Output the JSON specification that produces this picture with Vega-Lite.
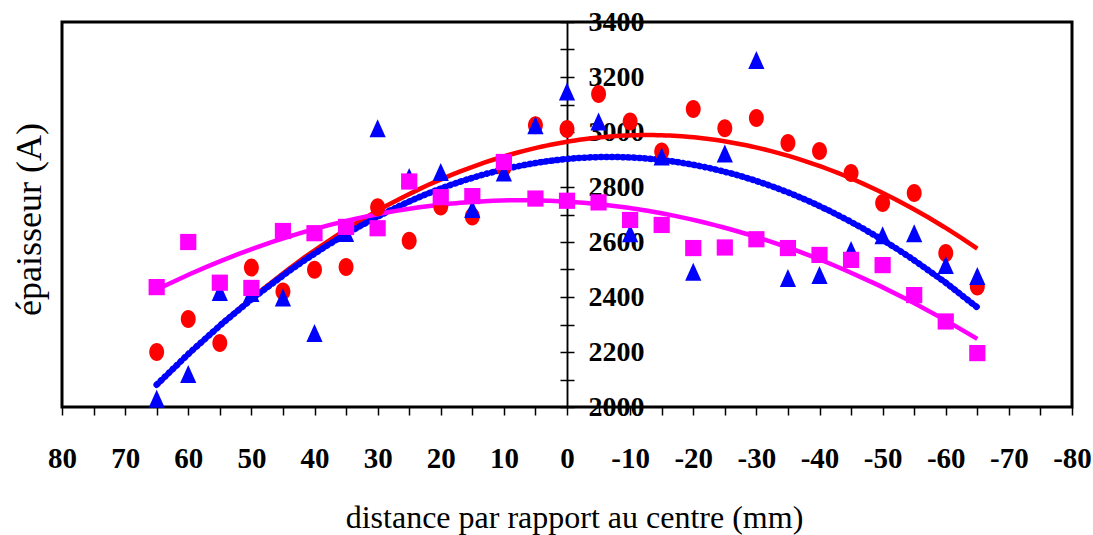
{
  "$schema": "https://vega.github.io/schema/vega-lite/v6.json",
  "width": 1010,
  "height": 385,
  "autosize": "none",
  "padding": {"left": 62, "top": 22, "right": 21, "bottom": 128},
  "background": "white",
  "config": {
    "view": {"stroke": "black", "strokeWidth": 3},
    "font": "Liberation Serif",
    "axis": {"grid": false}
  },
  "data": {
    "values": [
      {"x": 65, "y": 2200, "series": "s1"}, {"x": 60, "y": 2320, "series": "s1"}, {"x": 55, "y": 2233, "series": "s1"},
      {"x": 50, "y": 2507, "series": "s1"}, {"x": 45, "y": 2420, "series": "s1"}, {"x": 40, "y": 2499, "series": "s1"},
      {"x": 35, "y": 2509, "series": "s1"}, {"x": 30, "y": 2726, "series": "s1"}, {"x": 25, "y": 2605, "series": "s1"},
      {"x": 20, "y": 2729, "series": "s1"}, {"x": 15, "y": 2693, "series": "s1"}, {"x": 10, "y": 2870, "series": "s1"},
      {"x": 5, "y": 3025, "series": "s1"}, {"x": 0, "y": 3011, "series": "s1"}, {"x": -5, "y": 3138, "series": "s1"},
      {"x": -10, "y": 3038, "series": "s1"}, {"x": -15, "y": 2929, "series": "s1"}, {"x": -20, "y": 3084, "series": "s1"},
      {"x": -25, "y": 3014, "series": "s1"}, {"x": -30, "y": 3051, "series": "s1"}, {"x": -35, "y": 2960, "series": "s1"},
      {"x": -40, "y": 2931, "series": "s1"}, {"x": -45, "y": 2851, "series": "s1"}, {"x": -50, "y": 2742, "series": "s1"},
      {"x": -55, "y": 2778, "series": "s1"}, {"x": -60, "y": 2560, "series": "s1"}, {"x": -65, "y": 2438, "series": "s1"},
      {"x": 65, "y": 2030, "series": "s2"}, {"x": 60, "y": 2120, "series": "s2"}, {"x": 55, "y": 2418, "series": "s2"},
      {"x": 50, "y": 2415, "series": "s2"}, {"x": 45, "y": 2398, "series": "s2"}, {"x": 40, "y": 2269, "series": "s2"},
      {"x": 35, "y": 2633, "series": "s2"}, {"x": 30, "y": 3014, "series": "s2"}, {"x": 25, "y": 2836, "series": "s2"},
      {"x": 20, "y": 2855, "series": "s2"}, {"x": 15, "y": 2720, "series": "s2"}, {"x": 10, "y": 2853, "series": "s2"},
      {"x": 5, "y": 3025, "series": "s2"}, {"x": 0, "y": 3147, "series": "s2"}, {"x": -5, "y": 3038, "series": "s2"},
      {"x": -10, "y": 2632, "series": "s2"}, {"x": -15, "y": 2911, "series": "s2"}, {"x": -20, "y": 2492, "series": "s2"},
      {"x": -25, "y": 2922, "series": "s2"}, {"x": -30, "y": 3262, "series": "s2"}, {"x": -35, "y": 2469, "series": "s2"},
      {"x": -40, "y": 2480, "series": "s2"}, {"x": -45, "y": 2571, "series": "s2"}, {"x": -50, "y": 2625, "series": "s2"},
      {"x": -55, "y": 2632, "series": "s2"}, {"x": -60, "y": 2516, "series": "s2"}, {"x": -65, "y": 2476, "series": "s2"},
      {"x": 65, "y": 2436, "series": "s3"}, {"x": 60, "y": 2600, "series": "s3"}, {"x": 55, "y": 2452, "series": "s3"},
      {"x": 50, "y": 2433, "series": "s3"}, {"x": 45, "y": 2640, "series": "s3"}, {"x": 40, "y": 2632, "series": "s3"},
      {"x": 35, "y": 2655, "series": "s3"}, {"x": 30, "y": 2650, "series": "s3"}, {"x": 25, "y": 2820, "series": "s3"},
      {"x": 20, "y": 2763, "series": "s3"}, {"x": 15, "y": 2767, "series": "s3"}, {"x": 10, "y": 2891, "series": "s3"},
      {"x": 5, "y": 2758, "series": "s3"}, {"x": 0, "y": 2750, "series": "s3"}, {"x": -5, "y": 2744, "series": "s3"},
      {"x": -10, "y": 2680, "series": "s3"}, {"x": -15, "y": 2662, "series": "s3"}, {"x": -20, "y": 2578, "series": "s3"},
      {"x": -25, "y": 2580, "series": "s3"}, {"x": -30, "y": 2610, "series": "s3"}, {"x": -35, "y": 2578, "series": "s3"},
      {"x": -40, "y": 2553, "series": "s3"}, {"x": -45, "y": 2535, "series": "s3"}, {"x": -50, "y": 2516, "series": "s3"},
      {"x": -55, "y": 2407, "series": "s3"}, {"x": -60, "y": 2311, "series": "s3"}, {"x": -65, "y": 2196, "series": "s3"}
    ]
  },
  "resolve": {"axis": {"x": "independent", "y": "independent"}},
  "layer": [
    {
      "transform": [
        {"filter": "datum.series == 's1'"},
        {"regression": "y", "on": "x", "method": "poly", "order": 2}
      ],
      "mark": {"type": "line", "color": "#FF0000", "strokeWidth": 4.5},
      "encoding": {
        "x": {
          "field": "x", "type": "quantitative",
          "scale": {"domain": [-80, 80], "reverse": true, "nice": false, "zero": false},
          "axis": {
            "orient": "bottom",
            "values": [-80, -75, -70, -65, -60, -55, -50, -45, -40, -35, -30, -25, -20, -15, -10, -5, 0, 5, 10, 15, 20, 25, 30, 35, 40, 45, 50, 55, 60, 65, 70, 75, 80],
            "labelExpr": "datum.value % 10 == 0 ? '' + datum.value : ''",
            "domain": false,
            "ticks": true, "tickSize": 8, "tickWidth": 1.5, "tickColor": "black",
            "labelFont": "Liberation Serif", "labelFontWeight": "bold", "labelFontSize": 29, "labelColor": "black",
            "labelPadding": 52, "labelBaseline": "alphabetic", "labelFlush": false, "labelOverlap": false, "labelBound": false,
            "title": "distance par rapport au centre (mm)",
            "titleFont": "Liberation Serif", "titleFontSize": 32, "titleFontWeight": "normal", "titleColor": "black",
            "titleX": 512, "titleY": 120, "titleBaseline": "alphabetic", "titleAlign": "center"
          }
        },
        "y": {
          "field": "y", "type": "quantitative",
          "scale": {"domain": [2000, 3400], "nice": false, "zero": false},
          "axis": {
            "orient": "left",
            "labels": false, "ticks": false, "domain": false,
            "title": "épaisseur (A)",
            "titleFont": "Liberation Serif", "titleFontSize": 36, "titleFontWeight": "normal", "titleColor": "black",
            "titleAngle": -90, "titleX": -33, "titleY": 197, "titleBaseline": "middle", "titleAlign": "center"
          }
        }
      }
    },
    {
      "transform": [
        {"filter": "datum.series == 's2'"},
        {"regression": "y", "on": "x", "method": "poly", "order": 2}
      ],
      "mark": {"type": "line", "color": "#0000FF", "strokeWidth": 6.5, "strokeDash": [1, 4.5], "strokeCap": "round"},
      "encoding": {
        "x": {"field": "x", "type": "quantitative", "scale": {"domain": [-80, 80], "reverse": true, "nice": false, "zero": false}, "axis": null},
        "y": {
          "field": "y", "type": "quantitative",
          "scale": {"domain": [2000, 3400], "nice": false, "zero": false},
          "axis": {
            "orient": "left", "offset": -505,
            "values": [2000, 2100, 2200, 2300, 2400, 2500, 2600, 2700, 2800, 2900, 3000, 3100, 3200, 3300, 3400],
            "labels": false, "title": null,
            "domain": true, "domainColor": "black", "domainWidth": 1.5,
            "ticks": true, "tickSize": 7, "tickWidth": 1.5, "tickColor": "black"
          }
        }
      }
    },
    {
      "transform": [
        {"filter": "datum.series == 's3'"},
        {"regression": "y", "on": "x", "method": "poly", "order": 2}
      ],
      "mark": {"type": "line", "color": "#FF00FF", "strokeWidth": 4.5},
      "encoding": {
        "x": {"field": "x", "type": "quantitative", "scale": {"domain": [-80, 80], "reverse": true, "nice": false, "zero": false}, "axis": null},
        "y": {
          "field": "y", "type": "quantitative",
          "scale": {"domain": [2000, 3400], "nice": false, "zero": false},
          "axis": {
            "orient": "right", "offset": -505,
            "values": [2000, 2100, 2200, 2300, 2400, 2500, 2600, 2700, 2800, 2900, 3000, 3100, 3200, 3300, 3400],
            "labelExpr": "datum.value % 200 == 0 ? '' + datum.value : ''",
            "labelFont": "Liberation Serif", "labelFontWeight": "bold", "labelFontSize": 28, "labelColor": "black",
            "labelPadding": 14, "labelAlign": "left", "labelBaseline": "middle", "labelFlush": false, "labelOverlap": false, "labelBound": false,
            "title": null,
            "domain": true, "domainColor": "black", "domainWidth": 1.5,
            "ticks": true, "tickSize": 7, "tickWidth": 1.5, "tickColor": "black"
          }
        }
      }
    },
    {
      "mark": {"type": "point", "filled": true, "opacity": 1, "size": 324},
      "encoding": {
        "x": {"field": "x", "type": "quantitative", "scale": {"domain": [-80, 80], "reverse": true, "nice": false, "zero": false}, "axis": null},
        "y": {"field": "y", "type": "quantitative", "scale": {"domain": [2000, 3400], "nice": false, "zero": false}, "axis": null},
        "color": {
          "field": "series", "type": "nominal",
          "scale": {"domain": ["s1", "s2", "s3"], "range": ["#FF0000", "#0000FF", "#FF00FF"]},
          "legend": null
        },
        "shape": {
          "field": "series", "type": "nominal",
          "scale": {"domain": ["s1", "s2", "s3"], "range": ["M0,-1A0.83,1 0 1,1 0,1A0.83,1 0 1,1 0,-1Z", "M0,-1L-0.9,1L0.9,1Z", "M-0.9,-0.9H0.9V0.9H-0.9Z"]},
          "legend": null
        }
      }
    }
  ]
}
